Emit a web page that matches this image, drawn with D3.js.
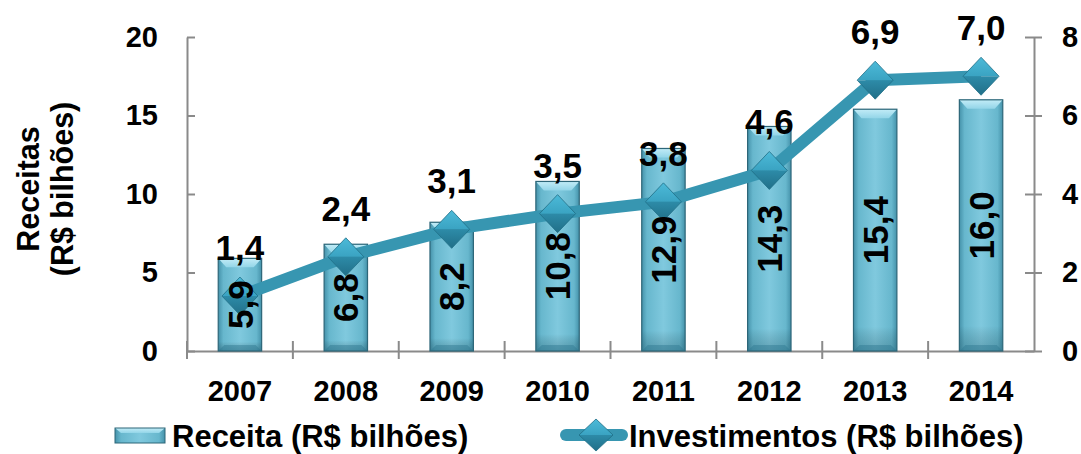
<!DOCTYPE html>
<html><head><meta charset="utf-8">
<script src="https://cdn.jsdelivr.net/npm/d3@7"></script>
<style>body{margin:0;background:#fff}svg{display:block}text{font-family:"Liberation Sans",Arial,sans-serif;font-weight:bold;fill:#000}</style>
</head><body>
<svg id="c" width="1081" height="454"></svg>
<script>
const categories = ["2007","2008","2009","2010","2011","2012","2013","2014"];
const receita = [5.9, 6.8, 8.2, 10.8, 12.9, 14.3, 15.4, 16.0];
const investimentos = [1.4, 2.4, 3.1, 3.5, 3.8, 4.6, 6.9, 7.0];
const leftTicks = [0, 5, 10, 15, 20];
const rightTicks = [0, 2, 4, 6, 8];
const fmt = v => v.toFixed(1).replace(".", ",");

const svg = d3.select("#c");
const L = 187, R = 1034, T = 37, B = 351;
const x = d3.scaleBand().domain(categories).range([L, R]).paddingInner(0).paddingOuter(0);
const yL = d3.scaleLinear().domain([0, 20]).range([B, T]);
const yR = d3.scaleLinear().domain([0, 8]).range([B, T]);

const defs = svg.append("defs");
const gH = defs.append("linearGradient").attr("id","barH").attr("x1","0").attr("x2","1").attr("y1","0").attr("y2","0");
[[0,"#4592aa"],[0.12,"#67b7cd"],[0.5,"#80c9de"],[0.88,"#67b7cd"],[1,"#4592aa"]].forEach(s=>gH.append("stop").attr("offset",s[0]).attr("stop-color",s[1]));
const gV = defs.append("linearGradient").attr("id","barV").attr("x1","0").attr("x2","0").attr("y1","0").attr("y2","1");
[[0,"#ffffff",0],[0.9,"#000000",0],[1,"#0a3a4a",0.25]].forEach(s=>gV.append("stop").attr("offset",s[0]).attr("stop-color",s[1]).attr("stop-opacity",s[2]));
const gTop = defs.append("linearGradient").attr("id","barTop").attr("x1","0").attr("x2","0").attr("y1","0").attr("y2","1");
[[0,"#c2ecf7"],[1,"#93d5e8"]].forEach(s=>gTop.append("stop").attr("offset",s[0]).attr("stop-color",s[1]));
const dTop = defs.append("linearGradient").attr("id","dTop").attr("x1","0").attr("x2","0").attr("y1","0").attr("y2","1");
[[0,"#4cbad8"],[1,"#3aa3c2"]].forEach(s=>dTop.append("stop").attr("offset",s[0]).attr("stop-color",s[1]));
const dBot = defs.append("linearGradient").attr("id","dBot").attr("x1","0").attr("x2","0").attr("y1","0").attr("y2","1");
[[0,"#2d8ba8"],[1,"#216f88"]].forEach(s=>dBot.append("stop").attr("offset",s[0]).attr("stop-color",s[1]));

const axisColor = "#8a8a8a";
const gLeft = svg.append("g").attr("transform",`translate(${L},0)`)
  .call(d3.axisLeft(yL).tickValues(leftTicks).tickSizeInner(9).tickSizeOuter(0).tickPadding(20));
gLeft.selectAll(".tick line").attr("x2", 8);
const gRight = svg.append("g").attr("transform",`translate(${R},0)`)
  .call(d3.axisRight(yR).tickValues(rightTicks).tickSizeInner(8).tickSizeOuter(0).tickPadding(20));
gRight.selectAll(".tick line").attr("x2", 8).attr("x1", -9);
const bounds = [...categories.map(c=>x(c)), R];
const gX = svg.append("g").attr("transform",`translate(0,${B})`)
  .call(d3.axisBottom(x).tickSize(0).tickPadding(29));
gX.selectAll(".tick line").remove();
svg.append("g").selectAll("line").data(bounds.slice(0,-1)).join("line")
  .attr("x1",d=>d).attr("x2",d=>d).attr("y1",B-10).attr("y2",B+8);
svg.selectAll("g line, g path.domain").attr("stroke",axisColor).attr("stroke-width",2);
svg.selectAll(".domain").attr("stroke",axisColor).attr("stroke-width",2);
svg.selectAll(".tick text").style("font-size","29px").style("font-family","'Liberation Sans',Arial,sans-serif").style("font-weight","bold").attr("fill","#000");
gX.selectAll(".tick text").attr("dy","0.71em");

// bars
const bw = x.bandwidth()*0.41;
const bars = svg.append("g").selectAll("g").data(categories).join("g")
  .attr("transform",(d,i)=>`translate(${x(d)+x.bandwidth()/2-bw/2},${yL(receita[i])})`);
bars.append("rect").attr("width",bw).attr("height",(d,i)=>B-yL(receita[i])).attr("fill","url(#barH)");
bars.append("rect").attr("width",bw).attr("height",(d,i)=>B-yL(receita[i])).attr("fill","url(#barV)");
bars.append("path").attr("d",`M0,0H${bw}L${bw-8},9H8Z`).attr("fill","url(#barTop)");
bars.append("path").attr("d",(d,i)=>{const h=B-yL(receita[i]);return `M0,${h}H${bw}L${bw-6},${h-6}H6Z`;}).attr("fill","#2f7890").attr("opacity",0.45);
bars.append("rect").attr("width",bw).attr("height",(d,i)=>B-yL(receita[i])).attr("fill","none").attr("stroke","#2d6678").attr("stroke-width",1.2);

// line
const cx = d => x(d)+x.bandwidth()/2;
svg.append("path").datum(categories)
  .attr("d", d3.line().x(d=>cx(d)).y((d,i)=>yR(investimentos[i])))
  .attr("fill","none").attr("stroke","#3796b1").attr("stroke-width",12).attr("stroke-linejoin","round");

function diamond(g, hw, hh){
  g.append("path").attr("d",`M${-hw},0L0,${-hh}L${hw},0Z`).attr("fill","url(#dTop)");
  g.append("path").attr("d",`M${-hw},0L0,${hh}L${hw},0Z`).attr("fill","url(#dBot)");
  g.append("path").attr("d",`M${-hw},0L0,${-hh}L${hw},0L0,${hh}Z`).attr("fill","none").attr("stroke","#1f6f86").attr("stroke-width",0.8);
}
svg.append("g").selectAll("g").data(categories).join("g")
  .attr("transform",(d,i)=>`translate(${cx(d)},${yR(investimentos[i])})`)
  .each(function(){ diamond(d3.select(this), 18, 19); });

// bar labels (rotated)
svg.append("g").selectAll("text").data(categories).join("text")
  .attr("transform",(d,i)=>`translate(${cx(d)},${(B+yL(receita[i]))/2}) rotate(-90)`)
  .attr("text-anchor","middle").attr("dy","0.36em").style("font-size","35px")
  .text((d,i)=>fmt(receita[i]));
// line labels
svg.append("g").selectAll("text").data(categories).join("text")
  .attr("x",d=>cx(d)).attr("y",(d,i)=>yR(investimentos[i])-36)
  .attr("text-anchor","middle").style("font-size","35px")
  .text((d,i)=>fmt(investimentos[i]));

// y title
const yt = svg.append("text").attr("transform","translate(0,189) rotate(-90)").attr("text-anchor","middle").style("font-size","30.5px");
yt.append("tspan").attr("x",0).attr("y",39).text("Receitas");
yt.append("tspan").attr("x",0).attr("y",73).text("(R$ bilhões)");

// legend
const lg = svg.append("g");
const sw = lg.append("g").attr("transform","translate(115,428)");
sw.append("rect").attr("width",50).attr("height",15).attr("fill","url(#barH)");
sw.append("path").attr("d","M0,0H50L44,5H6Z").attr("fill","url(#barTop)");
sw.append("rect").attr("width",50).attr("height",15).attr("fill","none").attr("stroke","#2d6678").attr("stroke-width",1);
lg.append("text").attr("x",172).attr("y",447).style("font-size","31px").text("Receita (R$ bilhões)");
lg.append("line").attr("x1",566).attr("x2",622).attr("y1",435).attr("y2",435).attr("stroke","#3796b1").attr("stroke-width",12).attr("stroke-linecap","round");
diamond(lg.append("g").attr("transform","translate(596,435)"), 17, 16);
lg.append("text").attr("x",629).attr("y",447).style("font-size","31px").text("Investimentos (R$ bilhões)");
</script>
</body></html>
